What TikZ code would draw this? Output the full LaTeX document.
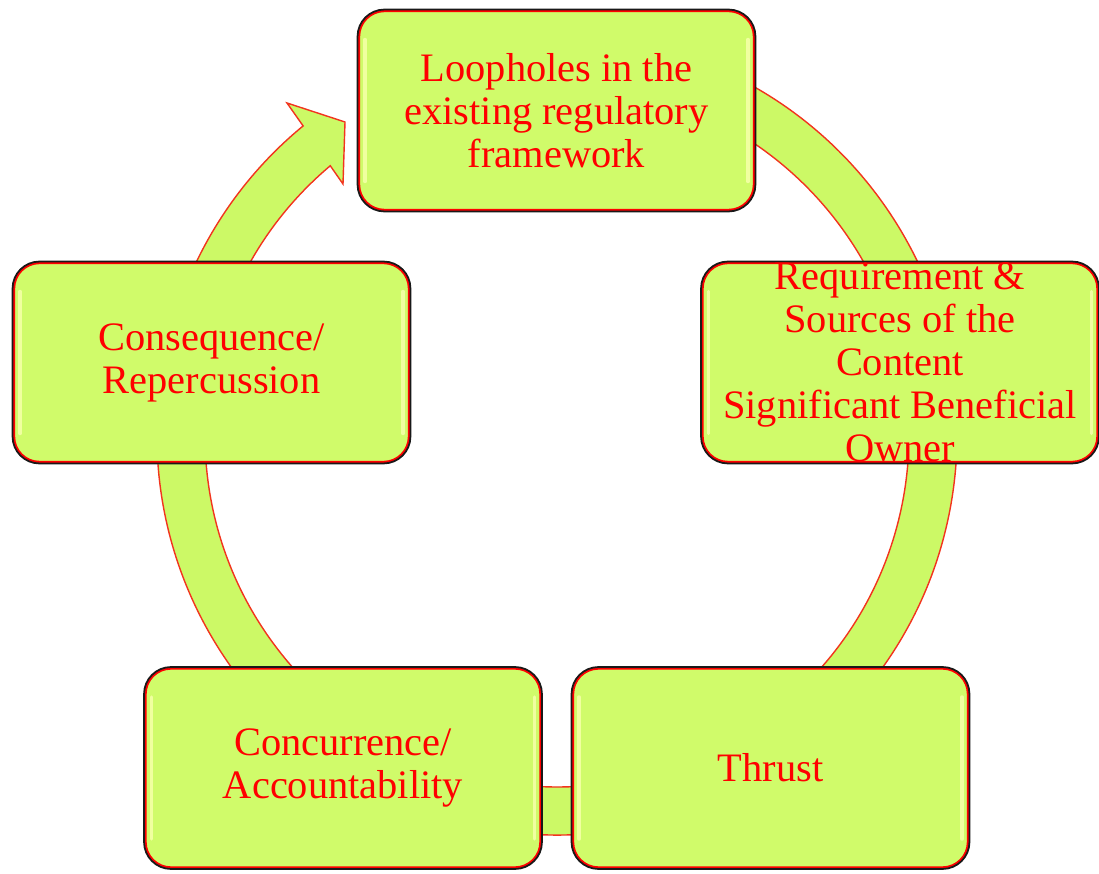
\documentclass[tikz,border=0pt]{standalone}
\usepackage{fontspec}
\setmainfont{Liberation Serif}
\usetikzlibrary{calc}
\definecolor{boxfill}{RGB}{208,251,106}
\definecolor{ringfill}{RGB}{204,249,102}
\definecolor{ringline}{RGB}{242,52,30}
\definecolor{txt}{RGB}{255,0,0}
\definecolor{glow}{RGB}{240,255,160}
\tikzset{
  stage/.style={rectangle, rounded corners=0.54cm, minimum width=7.96cm, minimum height=4.04cm,
    inner sep=0pt, fill=boxfill, draw=black!90, line width=1pt, text=txt, align=center,
    font=\fontsize{23}{24.4}\selectfont,
    path picture={
      \draw[glow, line width=2pt, line cap=round]
        ([shift={(0.15cm,-0.6cm)}]path picture bounding box.north west) --
        ([shift={(0.15cm,0.6cm)}]path picture bounding box.south west)
        ([shift={(-0.15cm,-0.6cm)}]path picture bounding box.north east) --
        ([shift={(-0.15cm,0.6cm)}]path picture bounding box.south east);
      \draw[red, line width=3pt, rounded corners=0.54cm]
        (path picture bounding box.south west) rectangle (path picture bounding box.north east);
    }},
  ring/.style={fill=ringfill, draw=ringline, line width=0.8pt, line join=miter}
}
\begin{document}
\begin{tikzpicture}[x=0.02cm, y=-0.02cm]
\useasboundingbox (0,0) rectangle (1099,874);
\coordinate (c) at (557,435);
% ring with arrow head
\draw[ring] ($(c)+(-80:400)$) arc[start angle=-80, end angle=230.6, radius=400]
  -- (287,103) -- (345,122) -- (343,184) -- ($(c)+(229.9:352)$)
  arc[start angle=229.9, end angle=-80, radius=352] -- cycle;
% stages
\node[stage] (top) at (556.5,110.5) {Loopholes in the\\existing regulatory\\framework};
\node[stage] (right) at (900,362.5) {Requirement \&\\Sources of the\\Content\\Significant Beneficial\\Owner};
\node[stage] (left) at (211.5,362.5) {Consequence/\\Repercussion};
\node[stage] (bl) at (343,768) {Concurrence/\\Accountability};
\node[stage] (br) at (770.5,768) {Thrust};
\end{tikzpicture}
\end{document}
